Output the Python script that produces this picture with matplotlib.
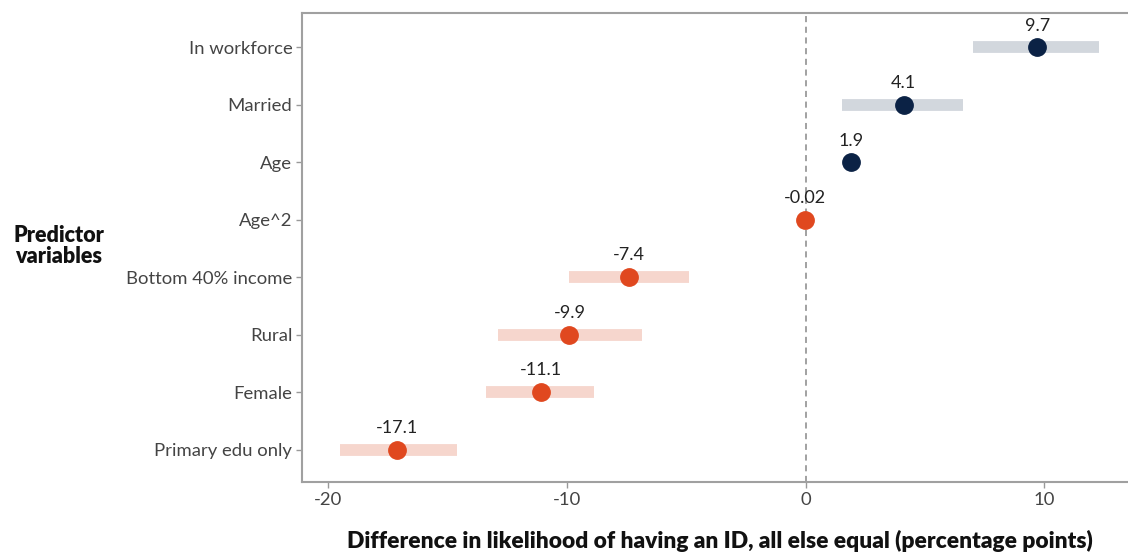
import matplotlib
matplotlib.use("Agg")
import matplotlib.pyplot as plt

# Data (top to bottom in the chart)
categories = ["In workforce", "Married", "Age", "Age^2",
              "Bottom 40% income", "Rural", "Female", "Primary edu only"]
estimates = [9.7, 4.1, 1.9, -0.02, -7.4, -9.9, -11.1, -17.1]
ci_low = [7.0, 1.5, 1.85, -0.03, -9.9, -12.9, -13.4, -19.5]
ci_high = [12.3, 6.6, 1.95, -0.01, -4.9, -6.85, -8.85, -14.6]
labels = ["9.7", "4.1", "1.9", "-0.02", "-7.4", "-9.9", "-11.1", "-17.1"]
xticks = [-20, -10, 0, 10]

pos_color = "#0b2245"
neg_color = "#e0481f"
pos_ci = "#d2d7dd"
neg_ci = "#f6d6cd"

fig = plt.figure(figsize=(11.28, 5.54), dpi=100)
ax = fig.add_axes([302/1128, 1-482/554, 1-302/1128, (482-13)/554])

n = len(categories)
ys = [n - 1 - i for i in range(n)]

for y, est, lo, hi, lab in zip(ys, estimates, ci_low, ci_high, labels):
    pos = est >= 0
    ax.plot([lo, hi], [y, y], color=pos_ci if pos else neg_ci, lw=8.5,
            solid_capstyle="butt", zorder=2)
    ax.plot(est, y, "o", color=pos_color if pos else neg_color,
            markersize=12.5, zorder=3)
    ax.annotate(lab, (est, y), xytext=(0, 10), textcoords="offset points",
                ha="center", va="bottom", fontsize=13, color="#222222",
                fontfamily="Lato")

ax.axvline(0, color="#888888", lw=1.1, ls=(0, (4, 3)), zorder=1)

ax.set_xlim(-21.1, 13.5)
ax.set_ylim(-0.56, 7.6)
ax.set_yticks(ys)
ax.set_yticklabels(categories)
ax.set_xticks(xticks)
ax.set_xticklabels([str(t) for t in xticks])

for lab in ax.get_yticklabels() + ax.get_xticklabels():
    lab.set_fontfamily("Lato")
    lab.set_fontsize(13.3)
    lab.set_color("#444444")

ax.tick_params(axis="both", length=4, width=1, color="#999999", pad=3)
for side in ["left", "top", "bottom"]:
    ax.spines[side].set_color("#a0a0a0")
    ax.spines[side].set_linewidth(1.5)
ax.spines["right"].set_visible(False)

fig.text(59/1128, 1-246/554, "Predictor\nvariables", ha="center", va="center",
         fontsize=15.5, fontweight="heavy", color="#111111", fontfamily="Lato",
         linespacing=1.05)
fig.text(720/1128, 1-541/554,
         "Difference in likelihood of having an ID, all else equal (percentage points)",
         ha="center", va="center", fontsize=16.4, fontweight="heavy",
         color="#111111", fontfamily="Lato")

fig.savefig("out.png", dpi=100)
